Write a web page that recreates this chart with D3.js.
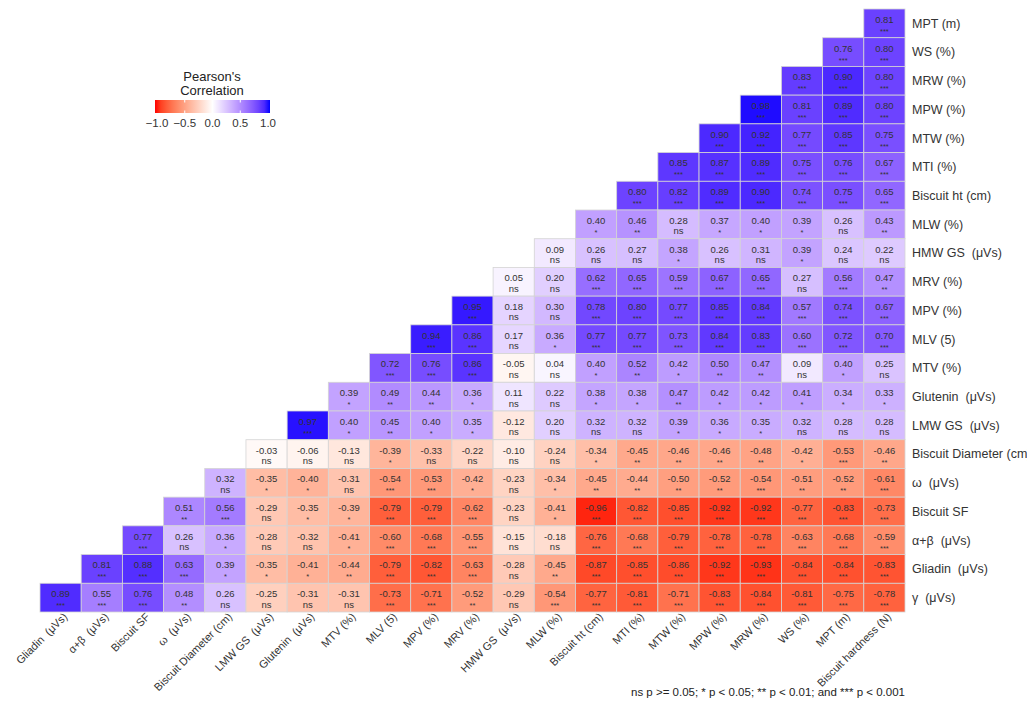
<!DOCTYPE html>
<html>
<head>
<meta charset="utf-8">
<script src="https://cdn.jsdelivr.net/npm/d3@7"></script>
<style>
    body { margin: 0; background: #fff; }
    svg { display: block; font-family: "Liberation Sans", Arial, sans-serif; }
</style>
</head>
<body>
<div id="corr-area"></div>
<script>

// column variables (x axis, left to right)
const colVars = ["Gliadin  (μVs)", "α+β  (μVs)", "Biscuit SF", "ω  (μVs)", "Biscuit Diameter (cm)",
    "LMW GS  (μVs)", "Glutenin  (μVs)", "MTV (%)", "MLV (5)", "MPV (%)", "MRV (%)", "HMW GS  (μVs)",
    "MLW (%)", "Biscuit ht (cm)", "MTI (%)", "MTW (%)", "MPW (%)", "MRW (%)", "WS (%)", "MPT (m)",
    "Biscuit hardness (N)"];

// row variables (y axis, top to bottom)
const rowVars = ["MPT (m)", "WS (%)", "MRW (%)", "MPW (%)", "MTW (%)", "MTI (%)", "Biscuit ht (cm)",
    "MLW (%)", "HMW GS  (μVs)", "MRV (%)", "MPV (%)", "MLV (5)", "MTV (%)", "Glutenin  (μVs)",
    "LMW GS  (μVs)", "Biscuit Diameter (cm)", "ω  (μVs)", "Biscuit SF", "α+β  (μVs)",
    "Gliadin  (μVs)", "γ  (μVs)"];

// correlation values, one array per row (top to bottom), starting at the first filled column
const rValues = [
    [0.81],
    [0.76, 0.80],
    [0.83, 0.90, 0.80],
    [0.98, 0.81, 0.89, 0.80],
    [0.90, 0.92, 0.77, 0.85, 0.75],
    [0.85, 0.87, 0.89, 0.75, 0.76, 0.67],
    [0.80, 0.82, 0.89, 0.90, 0.74, 0.75, 0.65],
    [0.40, 0.46, 0.28, 0.37, 0.40, 0.39, 0.26, 0.43],
    [0.09, 0.26, 0.27, 0.38, 0.26, 0.31, 0.39, 0.24, 0.22],
    [0.05, 0.20, 0.62, 0.65, 0.59, 0.67, 0.65, 0.27, 0.56, 0.47],
    [0.95, 0.18, 0.30, 0.78, 0.80, 0.77, 0.85, 0.84, 0.57, 0.74, 0.67],
    [0.94, 0.86, 0.17, 0.36, 0.77, 0.77, 0.73, 0.84, 0.83, 0.60, 0.72, 0.70],
    [0.72, 0.76, 0.86, -0.05, 0.04, 0.40, 0.52, 0.42, 0.50, 0.47, 0.09, 0.40, 0.25],
    [0.39, 0.49, 0.44, 0.36, 0.11, 0.22, 0.38, 0.38, 0.47, 0.42, 0.42, 0.41, 0.34, 0.33],
    [0.97, 0.40, 0.45, 0.40, 0.35, -0.12, 0.20, 0.32, 0.32, 0.39, 0.36, 0.35, 0.32, 0.28, 0.28],
    [-0.03, -0.06, -0.13, -0.39, -0.33, -0.22, -0.10, -0.24, -0.34, -0.45, -0.46, -0.46, -0.48, -0.42, -0.53, -0.46],
    [0.32, -0.35, -0.40, -0.31, -0.54, -0.53, -0.42, -0.23, -0.34, -0.45, -0.44, -0.50, -0.52, -0.54, -0.51, -0.52, -0.61],
    [0.51, 0.56, -0.29, -0.35, -0.39, -0.79, -0.79, -0.62, -0.23, -0.41, -0.96, -0.82, -0.85, -0.92, -0.92, -0.77, -0.83, -0.73],
    [0.77, 0.26, 0.36, -0.28, -0.32, -0.41, -0.60, -0.68, -0.55, -0.15, -0.18, -0.76, -0.68, -0.79, -0.78, -0.78, -0.63, -0.68, -0.59],
    [0.81, 0.88, 0.63, 0.39, -0.35, -0.41, -0.44, -0.79, -0.82, -0.63, -0.28, -0.45, -0.87, -0.85, -0.86, -0.92, -0.93, -0.84, -0.84, -0.83],
    [0.89, 0.55, 0.76, 0.48, 0.26, -0.25, -0.31, -0.31, -0.73, -0.71, -0.52, -0.29, -0.54, -0.77, -0.81, -0.71, -0.83, -0.84, -0.81, -0.75, -0.78]
];

// significance labels, same shape as rValues
const sigLabels = [
    ["***"],
    ["***", "***"],
    ["***", "***", "***"],
    ["***", "***", "***", "***"],
    ["***", "***", "***", "***", "***"],
    ["***", "***", "***", "***", "***", "***"],
    ["***", "***", "***", "***", "***", "***", "***"],
    ["*", "**", "ns", "*", "*", "*", "ns", "**"],
    ["ns", "ns", "ns", "*", "ns", "ns", "*", "ns", "ns"],
    ["ns", "ns", "***", "***", "***", "***", "***", "ns", "***", "**"],
    ["***", "ns", "ns", "***", "***", "***", "***", "***", "***", "***", "***"],
    ["***", "***", "ns", "*", "***", "***", "***", "***", "***", "***", "***", "***"],
    ["***", "***", "***", "ns", "ns", "*", "**", "*", "**", "**", "ns", "*", "ns"],
    ["*", "**", "**", "*", "ns", "ns", "*", "*", "**", "*", "*", "*", "*", "*"],
    ["***", "*", "**", "*", "*", "ns", "ns", "ns", "ns", "*", "*", "*", "ns", "ns", "ns"],
    ["ns", "ns", "ns", "*", "ns", "ns", "ns", "ns", "*", "**", "**", "**", "**", "*", "***", "**"],
    ["ns", "*", "*", "ns", "***", "***", "*", "ns", "*", "**", "**", "**", "**", "***", "**", "**", "***"],
    ["**", "***", "ns", "*", "*", "***", "***", "***", "ns", "*", "***", "***", "***", "***", "***", "***", "***", "***"],
    ["***", "ns", "*", "ns", "ns", "*", "***", "***", "***", "ns", "ns", "***", "***", "***", "***", "***", "***", "***", "***"],
    ["***", "***", "***", "*", "*", "*", "**", "***", "***", "***", "ns", "**", "***", "***", "***", "***", "***", "***", "***", "***"],
    ["***", "***", "***", "**", "ns", "ns", "ns", "ns", "***", "***", "**", "ns", "***", "***", "***", "***", "***", "***", "***", "***", "***"]
];

const legendTicks = [-1.0, -0.5, 0.0, 0.5, 1.0];
const legendTitle = ["Pearson's", "Correlation"];
const footnote = "ns p >= 0.05; * p < 0.05; ** p < 0.01; and *** p < 0.001";


class CorrVis {

    constructor(parentElement) {
        this.parentElement = parentElement;
        this.initVis();
    }

    initVis() {
        let vis = this;

        vis.width = 1027;
        vis.height = 704;

        // plot area of the tile grid
        vis.plot = {left: 40, right: 905, top: 9, bottom: 612};

        vis.svg = d3.select("#" + vis.parentElement).append("svg")
            .attr("width", vis.width)
            .attr("height", vis.height);

        vis.x = d3.scaleBand()
            .domain(colVars)
            .range([vis.plot.left, vis.plot.right]);

        vis.y = d3.scaleBand()
            .domain(rowVars)
            .range([vis.plot.top, vis.plot.bottom]);

        // red - white - blue, interpolated in Lab like ggplot
        vis.color = d3.scaleLinear()
            .domain([-1, 0, 1])
            .range(["#ff0000", "#ffffff", "#0000ff"])
            .interpolate(d3.interpolateLab);

        vis.wrangleData();
    }

    wrangleData() {
        let vis = this;

        // flatten rows into cells; row k starts at column (n - 1 - k)
        let n = colVars.length;
        vis.cells = [];
        rowVars.forEach((rv, k) => {
            rValues[k].forEach((r, i) => {
                vis.cells.push({
                    row: rv,
                    col: colVars[n - 1 - k + i],
                    r: r,
                    sig: sigLabels[k][i]
                });
            });
        });

        vis.updateVis();
    }

    updateVis() {
        let vis = this;
        let bw = vis.x.bandwidth(),
            bh = vis.y.bandwidth();

        // tiles
        let tiles = vis.svg.append("g").attr("class", "tiles")
            .selectAll("g")
            .data(vis.cells)
            .enter().append("g")
            .attr("transform", d => `translate(${vis.x(d.col)}, ${vis.y(d.row)})`);

        tiles.append("rect")
            .attr("width", bw)
            .attr("height", bh)
            .attr("fill", d => vis.color(d.r))
            .attr("stroke", "#d4d4d4")
            .attr("stroke-width", 0.8);

        tiles.append("text")
            .attr("x", bw / 2)
            .attr("y", bh / 2 - 0.5)
            .attr("text-anchor", "middle")
            .attr("font-size", "9.5px")
            .attr("fill", "#333")
            .text(d => d.r.toFixed(2));

        tiles.append("text")
            .attr("x", bw / 2)
            .attr("y", d => d.sig === "ns" ? bh / 2 + 10 : bh / 2 + 10.5)
            .attr("text-anchor", "middle")
            .attr("font-size", d => d.sig === "ns" ? "9.5px" : "7.5px")
            .attr("fill", "#333")
            .text(d => d.sig);

        // right axis labels (the long one runs off the edge, as in the original)
        vis.svg.append("g").attr("class", "y-labels")
            .selectAll("text")
            .data(rowVars)
            .enter().append("text")
            .attr("x", vis.plot.right + 7)
            .attr("y", d => vis.y(d) + bh / 2)
            .attr("dy", "0.35em")
            .attr("font-size", "12.5px")
            .attr("fill", "#333")
            .style("white-space", "pre")
            .text(d => d);

        // bottom axis labels, rotated 45 degrees
        vis.svg.append("g").attr("class", "x-labels")
            .selectAll("text")
            .data(colVars)
            .enter().append("text")
            .attr("transform", d => `translate(${vis.x(d) + bw / 2 + 2}, ${vis.plot.bottom}) rotate(-45)`)
            .attr("text-anchor", "end")
            .attr("dy", "0.7em")
            .attr("font-size", "11px")
            .attr("fill", "#333")
            .style("white-space", "pre")
            .text(d => d);

        // legend
        let legend = vis.svg.append("g").attr("class", "legend");
        let lx = d3.scaleLinear().domain([-1, 1]).range([157, 268]);

        let grad = vis.svg.append("defs").append("linearGradient")
            .attr("id", "corr-grad");
        d3.range(0, 1.0001, 0.05).forEach(t => {
            grad.append("stop")
                .attr("offset", (t * 100) + "%")
                .attr("stop-color", vis.color(-1 + 2 * t));
        });

        legend.selectAll(".legend-title")
            .data(legendTitle)
            .enter().append("text")
            .attr("class", "legend-title")
            .attr("x", 212)
            .attr("y", (d, i) => 81 + i * 13.5)
            .attr("text-anchor", "middle")
            .attr("font-size", "13px")
            .attr("fill", "#222")
            .text(d => d);

        legend.append("rect")
            .attr("x", 155)
            .attr("y", 100)
            .attr("width", 115)
            .attr("height", 13)
            .attr("fill", "url(#corr-grad)");

        legend.selectAll(".legend-tick")
            .data(legendTicks.slice(1, -1))
            .enter().append("line")
            .attr("x1", d => lx(d)).attr("x2", d => lx(d))
            .attr("y1", 100).attr("y2", 102.5)
            .attr("stroke", "#fff");

        legend.selectAll(".legend-tick-bottom")
            .data(legendTicks.slice(1, -1))
            .enter().append("line")
            .attr("x1", d => lx(d)).attr("x2", d => lx(d))
            .attr("y1", 110.5).attr("y2", 113)
            .attr("stroke", "#fff");

        legend.selectAll(".legend-label")
            .data(legendTicks)
            .enter().append("text")
            .attr("x", d => lx(d))
            .attr("y", 127)
            .attr("text-anchor", "middle")
            .attr("font-size", "11.5px")
            .attr("fill", "#333")
            .text(d => d3.format(".1f")(d).replace("-", "−"));

        // footnote
        vis.svg.append("text")
            .attr("x", vis.plot.right)
            .attr("y", 696)
            .attr("text-anchor", "end")
            .attr("font-size", "11.5px")
            .attr("fill", "#222")
            .text(footnote);
    }
}

new CorrVis("corr-area");

</script>
</body>
</html>
